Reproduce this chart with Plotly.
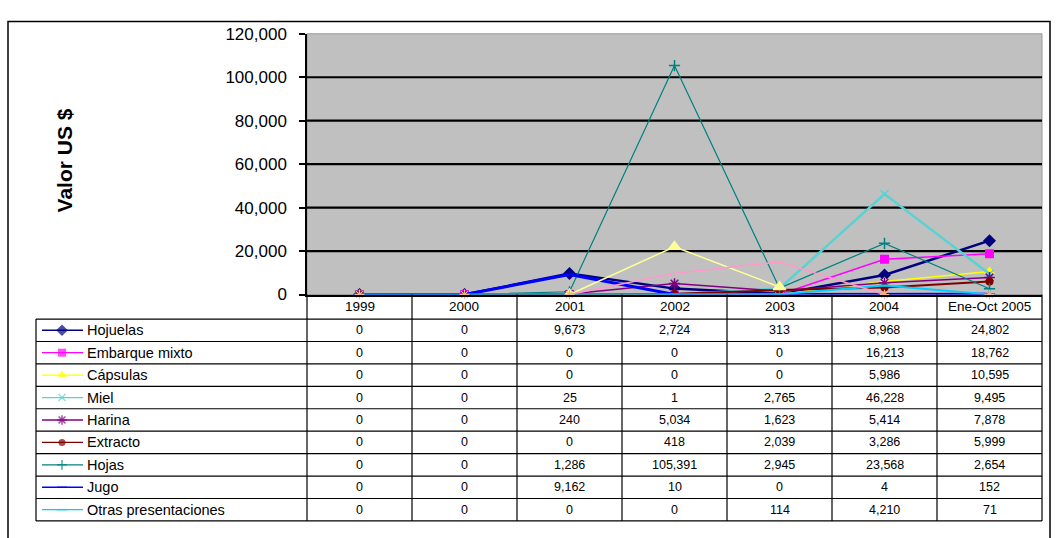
import plotly.graph_objects as go

# ---- data -------------------------------------------------------------
categories = ["1999", "2000", "2001", "2002", "2003", "2004", "Ene-Oct 2005"]

hojuelas = [0, 0, 9673, 2724, 313, 8968, 24802]
embarque_mixto = [0, 0, 0, 0, 0, 16213, 18762]
capsulas = [0, 0, 0, 0, 0, 5986, 10595]
miel = [0, 0, 25, 1, 2765, 46228, 9495]
harina = [0, 0, 240, 5034, 1623, 5414, 7878]
extracto = [0, 0, 0, 418, 2039, 3286, 5999]
hojas = [0, 0, 1286, 105391, 2945, 23568, 2654]
jugo = [0, 0, 9162, 10, 0, 4, 152]
otras = [0, 0, 0, 0, 114, 4210, 71]

# series plotted on the chart that have no row in the data table
extra_amarilla = [None, None, 0, 22000, 3500, None, None]
extra_rosa = [None, None, 0, 9800, 15000, 0, None]
extra_melocoton = [0, 0, 0, None, None, 0, 0]

y_ticks = [0, 20000, 40000, 60000, 80000, 100000, 120000]
axis_title = "Valor US $"

# ---- styles ------------------------------------------------------------
series = [
    dict(name="Hojuelas", values=hojuelas, color="#000080", width=2.5,
         symbol="diamond", size=10),
    dict(name="Embarque mixto", values=embarque_mixto, color="#FF00FF", width=1.5,
         symbol="square", size=9),
    dict(name="Cápsulas", values=capsulas, color="#FFFF00", width=1.5,
         symbol="triangle-up", size=10),
    dict(name="Miel", values=miel, color="#5AD2D2", width=2.5,
         symbol="x-thin-open", size=8),
    dict(name="Harina", values=harina, color="#800080", width=1.5,
         symbol="asterisk-open", size=9),
    dict(name="Extracto", values=extracto, color="#800000", width=2,
         symbol="circle", size=8),
    dict(name="Hojas", values=hojas, color="#008080", width=1.2,
         symbol="cross-thin-open", size=8),
    dict(name="Jugo", values=jugo, color="#0000FF", width=3,
         symbol="line-ew-open", size=8),
    dict(name="Otras presentaciones", values=otras, color="#00CCFF", width=2,
         symbol="line-ew-open", size=8),
]

extras = [
    dict(values=extra_amarilla, color="#FFFF99", width=1.5, symbol="triangle-up",
         size=11, mode="lines+markers", clip=True),
    dict(values=extra_rosa, color="#FF99CC", width=1.5, symbol="circle",
         size=1, mode="lines", clip=True),
    dict(values=extra_melocoton, color="#F2B48C", width=1, symbol="asterisk-open",
         size=8, mode="markers", clip=False),
]

W, H = 1058, 538
PX0, PX1 = 307, 1042          # plot area, pixels
PY_TOP, PY_BOT = 25.7, 296    # plot area, pixels
ROW_TOP, ROW_H = 321.4, 23.25  # table body
COL_W = (PX1 - PX0) / len(categories)
TABLE_LEFT = 36
FONT = "Arial, Liberation Sans, sans-serif"


def fx(px):
    return px / W


def fy(py):
    return 1 - py / H


fig = go.Figure()

# ---- main lines --------------------------------------------------------
for s in series:
    open_sym = s["symbol"].endswith("open")
    fig.add_trace(go.Scatter(
        x=categories, y=s["values"], name=s["name"], mode="lines+markers",
        line=dict(color=s["color"], width=s["width"]),
        marker=dict(symbol=s["symbol"], size=s["size"], color=s["color"],
                    line=dict(color=s["color"], width=1.5 if open_sym else 0)),
        cliponaxis=True, showlegend=False, xaxis="x", yaxis="y"))

for e in extras:
    fig.add_trace(go.Scatter(
        x=categories, y=e["values"], mode=e["mode"], connectgaps=False,
        line=dict(color=e["color"], width=e["width"]),
        marker=dict(symbol=e["symbol"], size=e["size"], color=e["color"],
                    line=dict(color=e["color"], width=1.2)),
        cliponaxis=e["clip"], showlegend=False, hoverinfo="skip",
        xaxis="x", yaxis="y"))

# ---- legend swatches in the data table ---------------------------------
for i, s in enumerate(series):
    cy = ROW_TOP + ROW_H * (i + 0.5)
    open_sym = s["symbol"].endswith("open")
    fig.add_trace(go.Scatter(
        x=[42, 62, 83], y=[cy, cy, cy], mode="lines+markers",
        line=dict(color=s["color"], width=1.3),
        marker=dict(symbol=s["symbol"], size=[0, s["size"] - 1, 0],
                    color=s["color"],
                    line=dict(color=s["color"], width=1.5 if open_sym else 0)),
        showlegend=False, hoverinfo="skip", xaxis="x2", yaxis="y2"))

shapes = []
annotations = []

# gray plot area and horizontal gridlines
shapes.append(dict(type="rect", xref="x domain", yref="y domain", x0=0, x1=1,
                   y0=0, y1=1, fillcolor="#C0C0C0",
                   line=dict(color="#9A9A9A", width=1), layer="below"))
for v in y_ticks[1:-1]:
    shapes.append(dict(type="line", xref="x domain", yref="y", x0=0, x1=1,
                       y0=v, y1=v, line=dict(color="black", width=2.2),
                       layer="below"))

# outer chart frame (runs past the bottom edge of the page)
shapes.append(dict(type="rect", xref="paper", yref="paper",
                   x0=fx(8), x1=fx(1050), y0=fy(640), y1=fy(13),
                   line=dict(color="black", width=1.5)))

# data table grid
n_rows = len(series)
table_bot = ROW_TOP + ROW_H * n_rows
for j in range(len(categories) + 1):
    xx = PX0 + COL_W * j
    shapes.append(dict(type="line", xref="paper", yref="paper",
                       x0=fx(xx), x1=fx(xx), y0=fy(PY_BOT), y1=fy(table_bot),
                       line=dict(color="black", width=1.2)))
shapes.append(dict(type="line", xref="paper", yref="paper",
                   x0=fx(TABLE_LEFT), x1=fx(TABLE_LEFT),
                   y0=fy(ROW_TOP), y1=fy(table_bot),
                   line=dict(color="black", width=1.2)))
for r in range(n_rows + 1):
    yy = ROW_TOP + ROW_H * r
    shapes.append(dict(type="line", xref="paper", yref="paper",
                       x0=fx(TABLE_LEFT), x1=fx(PX1), y0=fy(yy), y1=fy(yy),
                       line=dict(color="black", width=1.2)))

# header row
for j, c in enumerate(categories):
    annotations.append(dict(
        xref="paper", yref="paper", x=fx(PX0 + COL_W * (j + 0.5)),
        y=fy((PY_BOT + ROW_TOP) / 2), text=c, showarrow=False,
        xanchor="center", yanchor="middle",
        font=dict(family=FONT, size=13.5, color="black")))

# body rows
for i, s in enumerate(series):
    cy = ROW_TOP + ROW_H * (i + 0.5)
    annotations.append(dict(
        xref="paper", yref="paper", x=fx(85), y=fy(cy), text=s["name"],
        showarrow=False, xanchor="left", yanchor="middle",
        font=dict(family=FONT, size=14.5, color="black")))
    for j, v in enumerate(s["values"]):
        annotations.append(dict(
            xref="paper", yref="paper", x=fx(PX0 + COL_W * (j + 0.5)),
            y=fy(cy), text=f"{v:,}", showarrow=False,
            xanchor="center", yanchor="middle",
            font=dict(family=FONT, size=12.5, color="black")))

# value axis title
annotations.append(dict(
    xref="paper", yref="paper", x=fx(64), y=fy(157), text=f"<b>{axis_title}</b>",
    textangle=-90, showarrow=False, xanchor="center", yanchor="middle",
    font=dict(family=FONT, size=21, color="black")))

fig.update_layout(
    width=W, height=H,
    margin=dict(l=0, r=0, t=0, b=0),
    paper_bgcolor="white",
    plot_bgcolor="rgba(0,0,0,0)",
    showlegend=False,
    xaxis=dict(domain=[fx(PX0), fx(PX1)], type="category",
               categoryorder="array", categoryarray=categories,
               range=[-0.5, len(categories) - 0.5], showticklabels=False,
               ticks="", showgrid=False, zeroline=False, showline=True,
               linecolor="black", linewidth=2, anchor="y"),
    yaxis=dict(domain=[fy(PY_BOT), fy(PY_TOP)], range=[0, 120000],
               tickvals=y_ticks, tickformat=",", showgrid=False,
               zeroline=False, showline=True, linecolor="black", linewidth=1.5,
               ticks="outside", ticklen=6, tickwidth=1.5, tickcolor="black",
               ticklabelstandoff=9,
               tickfont=dict(family=FONT, size=17, color="black"), anchor="x"),
    xaxis2=dict(domain=[0, 1], range=[0, W], visible=False, anchor="y2",
                fixedrange=True),
    yaxis2=dict(domain=[0, 1], range=[H, 0], visible=False, anchor="x2",
                fixedrange=True),
    shapes=shapes,
    annotations=annotations,
)

fig.write_html("out.html")
